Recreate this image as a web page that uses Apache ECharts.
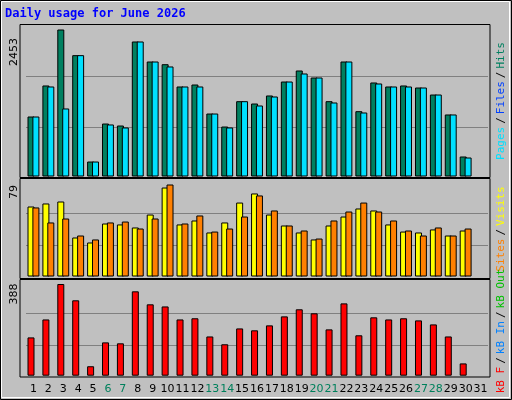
<!DOCTYPE html>
<html><head><meta charset="utf-8">
<script src="https://cdn.jsdelivr.net/npm/echarts@6/dist/echarts.min.js"></script>
<style>html,body{margin:0;padding:0;background:#c0c0c0}#c{width:512px;height:400px}</style>
</head><body><div id="c"></div>
<script>
const days = Array.from({length:31},(_,i)=>String(i+1));
const weekend = ['6','7','13','14','20','21','27','28'];
const hits = [1001,1519,2453,2025,250,884,851,2253,1919,1874,1502,1535,1051,834,1257,1218,1352,1585,1769,1652,1257,1919,1090,1569,1502,1519,1485,1368,1035,334,null];
const pages = [1001,1502,1135,2025,250,868,818,2253,1919,1836,1502,1502,1051,818,1257,1185,1335,1585,1719,1652,1235,1919,1068,1552,1502,1502,1485,1368,1035,317,null];
const visits = [60.1,62.7,64.4,33.5,29.2,45.5,44.7,42.1,53.2,76.4,44.7,48.1,37.8,46.4,63.5,71.3,53.2,43.8,37.8,31.8,43.8,51.5,58.4,56.7,44.7,38.6,37.8,40.4,35.2,39.5,null];
const sites = [59.3,46.4,49.8,35.2,31.8,46.4,47.2,41.2,49.8,79,45.5,52.4,38.6,41.2,51.5,69.6,56.7,43.8,39.5,32.6,48.1,55.8,63.5,55.8,48.1,39.5,35.2,42.1,35.2,41.2,null];
const kbF = [162,238,388,319,40,141,137,357,302,293,238,243,166,133,200,192,213,251,281,264,196,306,171,247,238,243,234,217,166,52,null];
const topMax = 2453, midMax = 79, botMax = 388;

const L=26, W=462;
const grids=[{left:L,width:W,top:25,height:151.5},{left:L,width:W,top:180,height:96.5},{left:L,width:W,top:281,height:94.7}];
function xa(i,show){return {type:'category',gridIndex:i,data:days,boundaryGap:true,axisLine:{show:false},axisTick:{show:false},
 axisLabel:{show:show,interval:0,margin:8,fontFamily:'DejaVu Sans',fontSize:11,color:(v)=>weekend.includes(v)?'#00805c':'#000'}};}
function ya(i,max){return {type:'value',gridIndex:i,min:0,max:max,show:false,splitLine:{show:false}};}
const tAx=topMax*151.5/147, mAx=midMax*96.5/92, bAx=botMax*94.7/91.7;
function gl(i,max){return {type:'line',xAxisIndex:i,yAxisIndex:i,data:[],z:0,zlevel:0,silent:true,
 markLine:{silent:true,symbol:'none',z:0,label:{show:false},lineStyle:{color:'#808080',type:'solid',width:1},
 data:[{yAxis:max*0.325},{yAxis:max*0.66}]}};}
const bs={borderColor:'#000',borderWidth:1};
const chart=echarts.init(document.getElementById('c'));
chart.setOption({
 animation:false,backgroundColor:'#c0c0c0',
 grid:grids,
 xAxis:[xa(0,false),xa(1,false),xa(2,true)],
 yAxis:[ya(0,tAx),ya(1,mAx),ya(2,bAx)],
 series:[
  gl(0,tAx),gl(1,mAx),gl(2,bAx),
  {type:'bar',xAxisIndex:0,yAxisIndex:0,data:hits,barWidth:7,barGap:'-30%',itemStyle:Object.assign({color:'#008060'},bs),z:2},
  {type:'bar',xAxisIndex:0,yAxisIndex:0,data:pages,barWidth:7,barGap:'-30%',itemStyle:Object.assign({color:'#00e0ff'},bs),z:3},
  {type:'bar',xAxisIndex:1,yAxisIndex:1,data:visits,barWidth:7,barGap:'-30%',itemStyle:Object.assign({color:'#ffff00'},bs),z:2},
  {type:'bar',xAxisIndex:1,yAxisIndex:1,data:sites,barWidth:7,barGap:'-30%',itemStyle:Object.assign({color:'#ff8000'},bs),z:3},
  {type:'bar',xAxisIndex:2,yAxisIndex:2,data:kbF,barWidth:7,barGap:'-30%',itemStyle:Object.assign({color:'#ff0000'},bs),z:2},
  {type:'bar',xAxisIndex:2,yAxisIndex:2,data:[],barWidth:7,barGap:'-30%',z:3}
 ],
 graphic:[
  {type:'rect',shape:{x:0.5,y:0.5,width:511,height:399},style:{fill:'none',stroke:'#000',lineWidth:1},silent:true},
  {type:'rect',shape:{x:1.5,y:1.5,width:508,height:396},style:{fill:'none',stroke:'#fff',lineWidth:1},silent:true},
  {type:'rect',shape:{x:20,y:24.5,width:470,height:153},style:{fill:'none',stroke:'#000',lineWidth:1},silent:true,z:10},
  {type:'rect',shape:{x:20,y:178.5,width:470,height:100},style:{fill:'none',stroke:'#000',lineWidth:1},silent:true,z:10},
  {type:'rect',shape:{x:20,y:279.5,width:470,height:97.5},style:{fill:'none',stroke:'#000',lineWidth:1},silent:true,z:10},
  {type:'text',left:5,top:8,style:{text:'Daily usage for June 2026',fill:'#0000ff',font:'bold 12px "DejaVu Sans Mono"'}},
  {type:'text',x:9,y:52,rotation:Math.PI/2,style:{text:'2453',fill:'#000',font:'11px "DejaVu Sans"',align:'center',verticalAlign:'top'}},
  {type:'text',x:9,y:192,rotation:Math.PI/2,style:{text:'79',fill:'#000',font:'11px "DejaVu Sans"',align:'center',verticalAlign:'top'}},
  {type:'text',x:9,y:294,rotation:Math.PI/2,style:{text:'388',fill:'#000',font:'11px "DejaVu Sans"',align:'center',verticalAlign:'top'}},
  {type:'text',x:496,y:101,rotation:Math.PI/2,style:{text:'{a|Pages}{k|/}{b|Files}{k|/}{c|Hits}',font:'11px "DejaVu Sans Mono"',align:'center',verticalAlign:'top',
    rich:{a:{fill:'#00e0ff',font:'11px "DejaVu Sans Mono"'},b:{fill:'#0040ff',font:'11px "DejaVu Sans Mono"'},c:{fill:'#008060',font:'11px "DejaVu Sans Mono"'},k:{fill:'#000',font:'11px "DejaVu Sans Mono"',padding:[0,3]}}}},
  {type:'text',x:496,y:229,rotation:Math.PI/2,style:{text:'{b|Sites}{k|/}{a|Visits}',font:'11px "DejaVu Sans Mono"',align:'center',verticalAlign:'top',
    rich:{a:{fill:'#ffff00',font:'11px "DejaVu Sans Mono"'},b:{fill:'#ff8000',font:'11px "DejaVu Sans Mono"'},k:{fill:'#000',font:'11px "DejaVu Sans Mono"',padding:[0,3]}}}},
  {type:'text',x:496,y:331,rotation:Math.PI/2,style:{text:'{a|kB F}{k|/}{b|kB In}{k|/}{c|kB Out}',font:'11px "DejaVu Sans Mono"',align:'center',verticalAlign:'top',
    rich:{a:{fill:'#ff0000',font:'11px "DejaVu Sans Mono"'},b:{fill:'#0080ff',font:'11px "DejaVu Sans Mono"'},c:{fill:'#00c000',font:'11px "DejaVu Sans Mono"'},k:{fill:'#000',font:'11px "DejaVu Sans Mono"',padding:[0,3]}}}}
 ]
});
</script></body></html>
